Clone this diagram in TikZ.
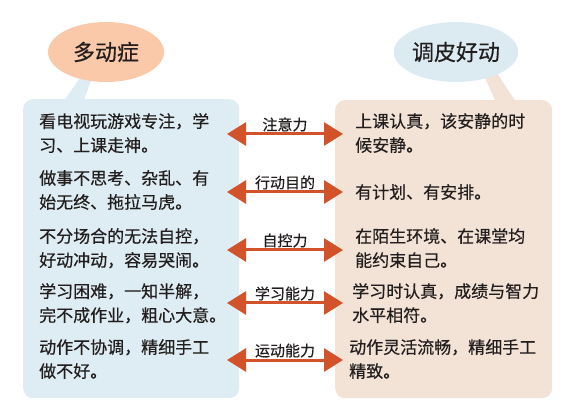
\documentclass[tikz,border=0pt]{standalone}
\usepackage{fontspec}
\newfontfamily\cjk[FakeBold=0.4]{Noto Sans CJK SC}
\usetikzlibrary{arrows.meta,shapes.geometric}
\definecolor{hdblue}{RGB}{220,235,242}
\definecolor{hdpeach}{RGB}{250,201,169}
\definecolor{boxblue}{RGB}{222,237,243}
\definecolor{boxsand}{RGB}{243,227,214}
\definecolor{arrowred}{RGB}{210,82,42}
\definecolor{ink}{RGB}{35,30,30}

\begin{document}
\begin{tikzpicture}[x=1pt,y=-1pt,
      every node/.style={font=\cjk,text=ink},
      panel/.style={rounded corners=10pt,inner sep=0pt,anchor=north west},
      bubble/.style={ellipse,inner sep=0pt,minimum width=116pt,minimum height=60pt,font=\cjk\fontsize{22}{26}\selectfont},
      trait/.style={anchor=north west,inner sep=0pt,align=left,font=\cjk\fontsize{17}{24}\selectfont},
      link/.style={draw=arrowred,line width=3pt,{Triangle[length=19pt,width=23pt]}-{Triangle[length=19pt,width=23pt]}},
      tag/.style={anchor=south,inner sep=1pt,font=\cjk\fontsize{15}{18}\selectfont}]
      \useasboundingbox (0,0) rectangle (575,419);
      % panels and speech tails
      \node[panel,fill=boxblue,minimum width=216pt,minimum height=299pt] (left) at (23,99) {};
      \node[panel,fill=boxsand,minimum width=217pt,minimum height=298pt] (right) at (335,100) {};
      \fill[boxblue] (80,78) -- (91,81) -- (83,102) -- (63,102) -- cycle;
      \fill[boxsand] (484,76) -- (497,73) -- (516,102) -- (496,102) -- cycle;
      \node[bubble,fill=hdpeach] (adhd) at (106,52) {多动症};
      \node[bubble,fill=hdblue] (lively) at (456,52) {调皮好动};
      % left column
      \node[trait] (lt1) at (39,113) {看电视玩游戏专注，学\\习、上课走神。};
      \node[trait] (lt2) at (39,170) {做事不思考、杂乱、有\\始无终、拖拉马虎。};
      \node[trait] (lt3) at (39,228) {不分场合的无法自控，\\好动冲动，容易哭闹。};
      \node[trait] (lt4) at (39,283) {学习困难，一知半解，\\完不成作业，粗心大意。};
      \node[trait] (lt5) at (39,339) {动作不协调，精细手工\\做不好。};
      % right column
      \node[trait] (rt1) at (355,113) {上课认真，该安静的时\\候安静。};
      \node[trait] (rt2) at (355,184) {有计划、有安排。};
      \node[trait] (rt3) at (355,228) {在陌生环境、在课堂均\\能约束自己。};
      \node[trait] (rt4) at (352,283) {学习时认真，成绩与智力\\水平相符。};
      \node[trait] (rt5) at (349,339) {动作灵活流畅，精细手工\\精致。};
      % arrows
      \foreach \y/\lbl [count=\i] in {134/注意力,192/行动目的,250/自控力,303/学习能力,360/运动能力} {
        \coordinate (l\i) at (227,\y);
        \coordinate (r\i) at (343,\y);
        \draw[link] (l\i) -- (r\i) node[midway,tag] (t\i) {\lbl};
      }
    \end{tikzpicture}
\end{document}
